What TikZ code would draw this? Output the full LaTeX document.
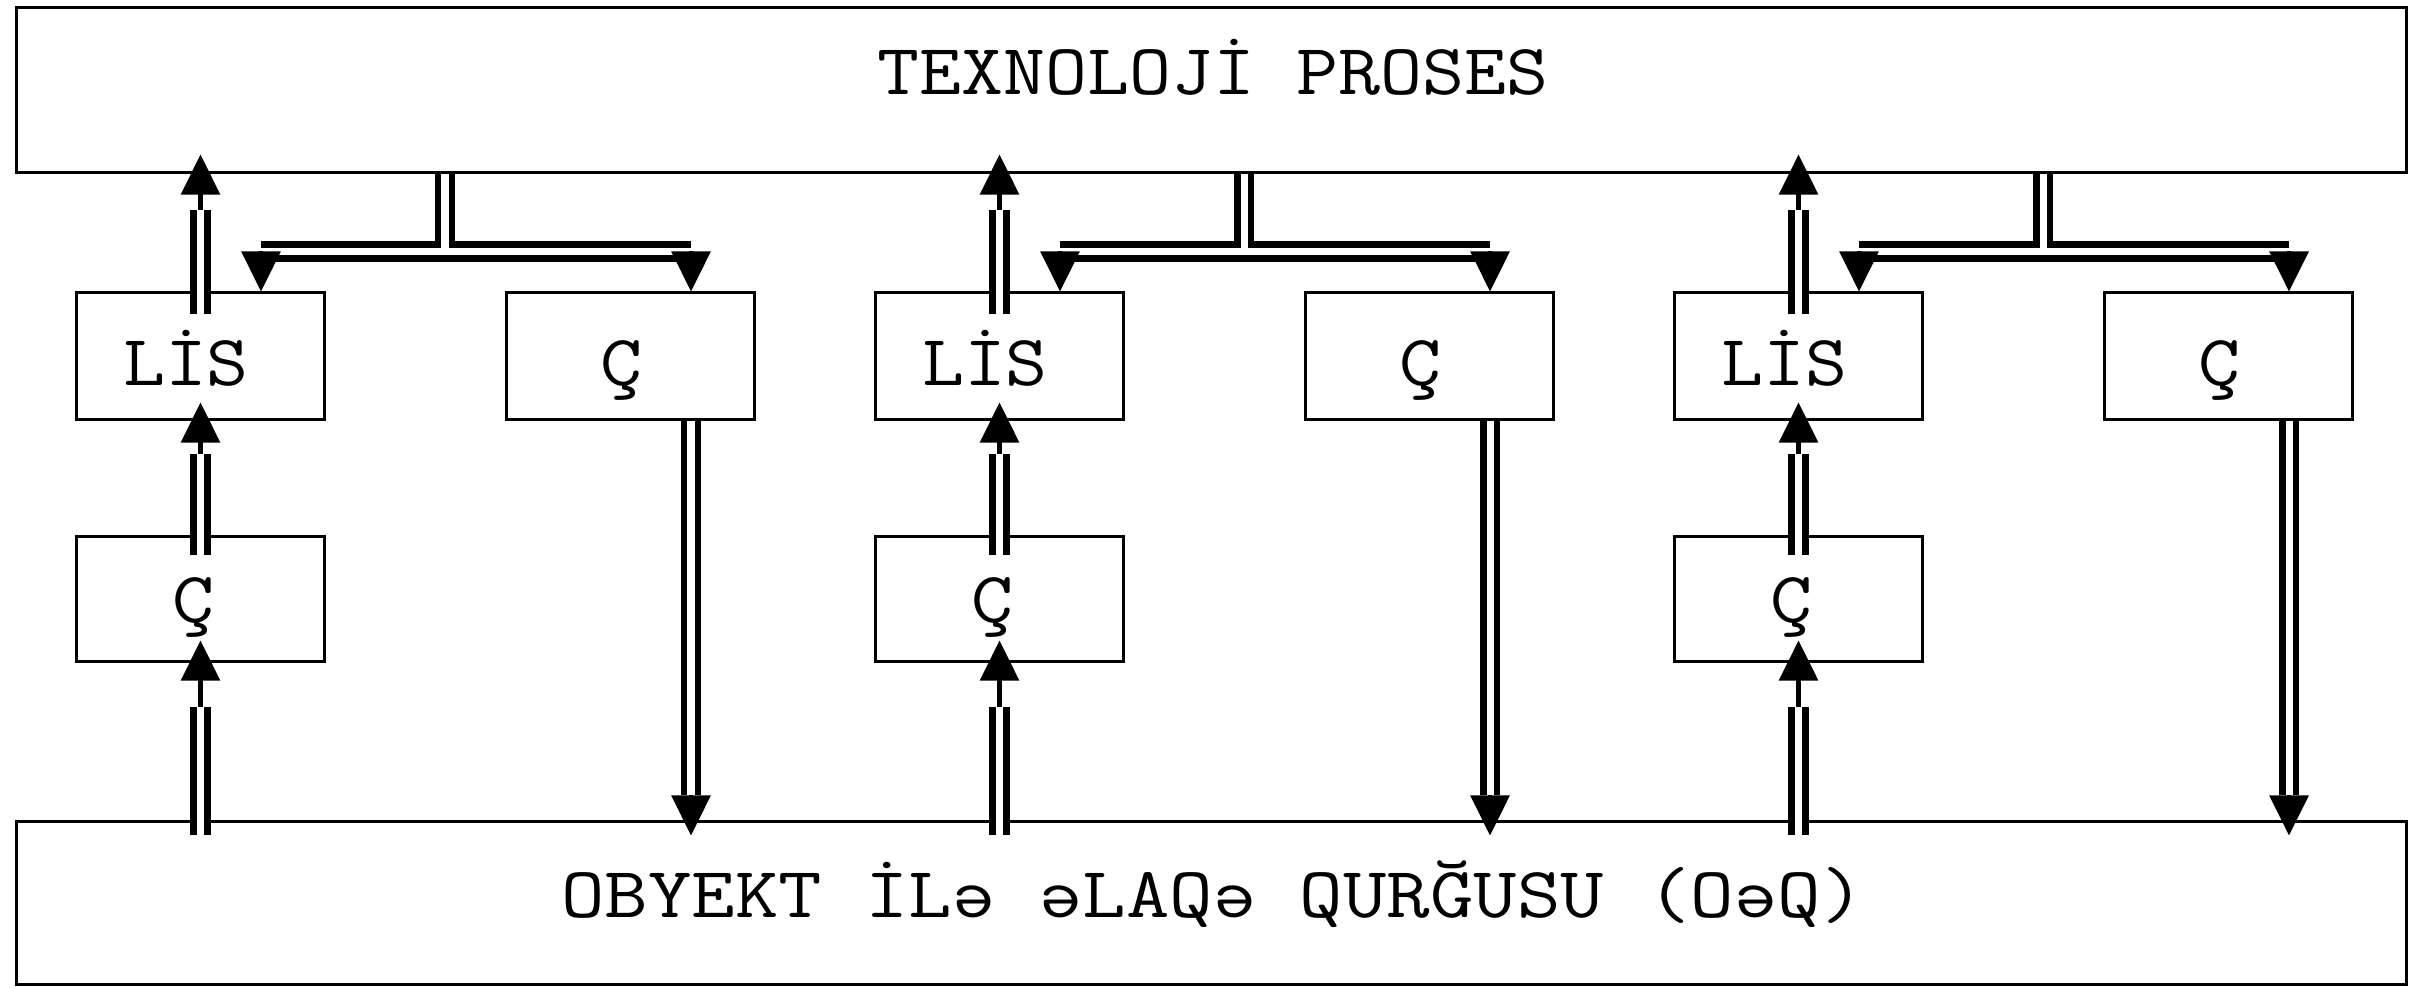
\documentclass[tikz,border=0pt]{standalone}
\usepackage{fontspec}
\newfontfamily\monofont[FakeStretch=1.13]{Latin Modern Mono}
\newfontfamily\monowide[FakeStretch=1.17]{Latin Modern Mono}
\usetikzlibrary{arrows.meta,calc}

\begin{document}
\begin{tikzpicture}[x=0.01cm,y=-0.01cm,
  blk/.style={draw,line width=0.85pt,inner sep=0pt,fill=white},
  lbl/.style={inner sep=0pt,font=\monofont\fontsize{20.5pt}{24pt}\selectfont},
  widelbl/.style={inner sep=0pt,font=\monowide\fontsize{20.5pt}{24pt}\selectfont},
  pipe/.style={line width=1.9pt,double=white,double distance=2.0pt},
  neck/.style={line width=1.2pt,-{Triangle[width=11pt,length=11.4pt]}}]

\useasboundingbox[fill=white] (0,0) rectangle (2409,988);

% process and object-link blocks
\node[blk,minimum width=23.89cm,minimum height=1.64cm] (top) at (1211.5,90) {};
\node[blk,minimum width=23.89cm,minimum height=1.62cm] (bot) at (1211.5,903) {};
\node[lbl,anchor=base] (topT) at (1213,95) {TEXNOLOJİ PROSES};
\node[widelbl,anchor=base] (botT) at (1213,917) {OBYEKT İLə əLAQə QURĞUSU (OəQ)};

\foreach \i/\o in {1/0,2/799,3/1598}{
  % channel blocks
  \node[blk,minimum width=2.47cm,minimum height=1.26cm] (lis\i) at (200.5+\o,356) {};
  \node[blk,minimum width=2.47cm,minimum height=1.26cm] (cr\i) at (630.5+\o,356) {};
  \node[blk,minimum width=2.47cm,minimum height=1.24cm] (cl\i) at (200.5+\o,599) {};
  \node[lbl,anchor=base] (lisT\i) at (186+\o,385) {LİS};
  \node[lbl,anchor=base] (crT\i) at (621+\o,385) {Ç};
  \node[lbl,anchor=base] (clT\i) at (193+\o,622) {Ç};

  % input path: object link -> converter -> LIS -> process
  \draw[pipe] ($(bot.north-|cl\i.south)+(0,15)$) -- ($(cl\i.south)+(0,44)$);
  \draw[neck] ($(cl\i.south)+(0,44)$) -- ($(cl\i.south)+(0,-22)$);
  \draw[pipe] ($(cl\i.north)+(0,20)$) -- ($(lis\i.south)+(0,33)$);
  \draw[neck] ($(lis\i.south)+(0,33)$) -- ($(lis\i.south)+(0,-18)$);
  \draw[pipe] ($(lis\i.north)+(0,23)$) -- ($(lis\i.north|-top.south)+(0,36)$);
  \draw[neck] ($(lis\i.north|-top.south)+(0,36)$) -- ($(lis\i.north|-top.south)+(0,-19)$);

  % output branch: process -> LIS and converter
  \draw[pipe] ($(top.south-|lis\i.north)+(244.5,0)$) -- ($(lis\i.north)+(244.5,-40)$)
              ($(lis\i.north)+(60.5,-40)$) -- ($(cr\i.north)+(60.5,-40)$);
  \draw[neck] ($(lis\i.north)+(60.5,-40)$) -- ($(lis\i.north)+(60.5,0)$);
  \draw[neck] ($(cr\i.north)+(60.5,-40)$) -- ($(cr\i.north)+(60.5,0)$);

  % converter -> object link
  \draw[pipe] ($(cr\i.south)+(60.5,0)$) -- ($(bot.north-|cr\i.south)+(60.5,-25)$);
  \draw[neck] ($(bot.north-|cr\i.south)+(60.5,-25)$) -- ($(bot.north-|cr\i.south)+(60.5,15)$);
}
\end{tikzpicture}
\end{document}
